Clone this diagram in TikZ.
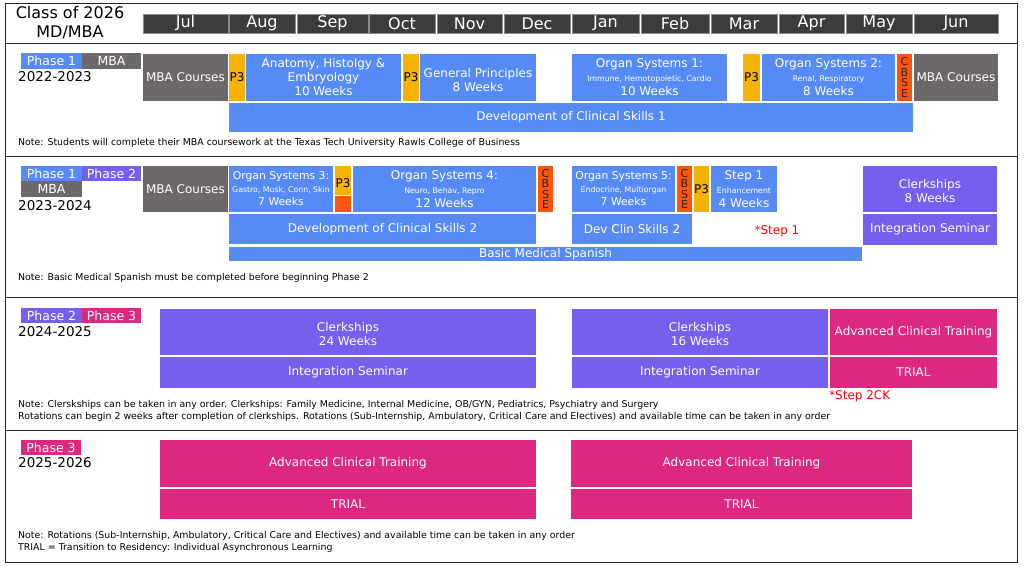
\documentclass[tikz,border=0pt]{standalone}
\usepackage{fontspec}
\setmainfont{DejaVu Sans}
\usepackage{tikz}
\usepackage{color}
\usetikzlibrary{positioning}

\definecolor{medblue}{RGB}{86,139,245}
\definecolor{mbagray}{RGB}{110,105,105}
\definecolor{pyellow}{RGB}{246,178,0}
\definecolor{cbsered}{RGB}{255,84,12}
\definecolor{clkpurple}{RGB}{117,95,236}
\definecolor{actpink}{RGB}{220,40,128}
\definecolor{monthgray}{RGB}{60,60,60}

% a block from (x1,y1) to (x2,y2), in pixels from the top left
\newcommand{\slot}[7]{\node[#1,minimum width={(#4-#2)*1pt},minimum height={(#5-#3)*1pt},anchor=north west] (#6) at (#2,#3) {#7};}
\newcommand{\sm}[1]{{\fontsize{7.8}{10}\selectfont #1}}

\begin{document}
\begin{tikzpicture}[x=1pt,y=-1pt,
    box/.style={inner sep=0pt,outer sep=0pt,align=center,text=white,font=\fontsize{12}{14}\selectfont},
    med/.style={box,fill=medblue},
    mba/.style={box,fill=mbagray},
    pthree/.style={box,fill=pyellow,text=black},
    cbse/.style={box,fill=cbsered,text=black!85,font=\fontsize{11}{10.5}\selectfont},
    clk/.style={box,fill=clkpurple},
    act/.style={box,fill=actpink},
    tag/.style={box,font=\fontsize{12.5}{14}\selectfont},
    month/.style={box,fill=monthgray,draw=black!45,line width=0.8pt,font=\fontsize{16}{18}\selectfont},
    year/.style={anchor=west,inner sep=0pt,font=\fontsize{13.5}{15}\selectfont},
    note/.style={anchor=west,inner sep=0pt,align=left,font=\fontsize{9.4}{11.5}\selectfont},
    exam/.style={inner sep=0pt,text=red,font=\fontsize{12}{14}\selectfont}]

  \useasboundingbox (0,0) rectangle (1026,566);

  % frame
  \draw[line width=0.9pt,black!85] (5,3) rectangle (1017,562);
  \draw[line width=0.9pt,black!85] (5,43) -- (1017,43);
  \draw[line width=0.9pt,black!85] (5,156) -- (1017,156);
  \draw[line width=0.9pt,black!85] (5,297) -- (1017,297);
  \draw[line width=0.9pt,black!85] (5,430) -- (1017,430);

  % header
  \node[align=center,inner sep=0pt,font=\fontsize{16}{19}\selectfont] (title) at (70,23) {Class of 2026\\MD/MBA};
  \slot{month}{143}{14}{228}{33}{jul}{Jul}
  \slot{month}{229}{14}{295}{33}{aug}{Aug}
  \slot{month}{297}{14}{368}{33}{sep}{Sep}
  \slot{month}{369}{14}{435}{33}{oct}{Oct}
  \slot{month}{437}{14}{502}{33}{nov}{Nov}
  \slot{month}{504}{14}{570}{33}{dec}{Dec}
  \slot{month}{572}{14}{639}{33}{jan}{Jan}
  \slot{month}{641}{14}{709}{33}{feb}{Feb}
  \slot{month}{711}{14}{777}{33}{mar}{Mar}
  \slot{month}{779}{14}{844}{33}{apr}{Apr}
  \slot{month}{846}{14}{912}{33}{may}{May}
  \slot{month}{914}{14}{998}{33}{jun}{Jun}

  % 2022-2023
  \slot{tag,fill=medblue}{21}{53}{82}{69}{phA}{Phase 1}
  \slot{tag,fill=mbagray}{82}{53}{141}{69}{mbaA}{MBA}
  \node[year] (yrA) at (18,77) {2022-2023};
  \slot{mba}{143}{54}{228}{101}{mbacA}{MBA Courses}
  \slot{pthree}{229}{54}{245}{101}{ptA}{P3}
  \slot{med}{246}{54}{401}{101}{anat}{Anatomy, Histolgy \&\\Embryology\\10 Weeks}
  \slot{pthree}{403}{54}{419}{101}{ptB}{P3}
  \slot{med}{420}{54}{536}{101}{genp}{\mbox{}\\General Principles\\8 Weeks}
  \slot{med}{572}{54}{727}{101}{osA}{Organ Systems 1:\\\sm{Immune, Hemotopoietic, Cardio}\\10 Weeks}
  \slot{pthree}{743}{54}{760}{101}{ptC}{P3}
  \slot{med}{762}{54}{895}{101}{osB}{Organ Systems 2:\\\sm{Renal, Respiratory}\\8 Weeks}
  \slot{cbse}{897}{54}{912}{101}{cbA}{C\\B\\S\\E}
  \slot{mba}{914}{54}{998}{101}{mbacB}{MBA Courses}
  \slot{med}{229}{103}{913}{132}{dcsA}{Development of Clinical Skills 1}
  \node[note] (noteA) at (18,143) {Note: Students will complete their MBA coursework at the Texas Tech University Rawls College of Business};

  % 2023-2024
  \slot{tag,fill=medblue}{21}{166}{82}{181}{phB}{Phase 1}
  \slot{tag,fill=clkpurple}{82}{166}{141}{181}{phC}{Phase 2}
  \slot{tag,fill=mbagray}{21}{181}{82}{197}{mbaB}{MBA}
  \node[year] (yrB) at (18,206) {2023-2024};
  \slot{mba}{143}{166}{228}{212}{mbacC}{MBA Courses}
  \slot{med,font=\fontsize{10.8}{13}\selectfont}{229}{166}{333}{212}{osC}{Organ Systems 3:\\\sm{Gastro, Musk, Conn, Skin}\\7 Weeks}
  \slot{pthree}{335}{166}{351}{195}{ptD}{\mbox{}\\P3}
  \slot{cbse}{335}{196}{351}{212}{cbB}{}
  \slot{med}{353}{166}{536}{212}{osD}{Organ Systems 4:\\\sm{Neuro, Behav, Repro}\\12 Weeks}
  \slot{cbse}{538}{166}{553}{212}{cbC}{C\\B\\S\\E}
  \slot{med,font=\fontsize{10.8}{13}\selectfont}{572}{166}{675}{212}{osE}{Organ Systems 5:\\\sm{Endocrine, Multiorgan}\\7 Weeks}
  \slot{cbse}{677}{166}{692}{212}{cbD}{C\\B\\S\\E}
  \slot{pthree}{694}{166}{709}{212}{ptE}{P3}
  \slot{med}{711}{166}{777}{212}{stepA}{Step 1\\\sm{Enhancement}\\4 Weeks}
  \slot{clk}{863}{166}{997}{212}{clkA}{\mbox{}\\Clerkships\\8 Weeks}
  \slot{med}{229}{214}{536}{244}{dcsB}{Development of Clinical Skills 2}
  \slot{med}{572}{214}{692}{244}{dcsC}{Dev Clin Skills 2}
  \node[exam] (exA) at (777,231) {*Step 1};
  \slot{clk}{863}{214}{997}{245}{intA}{Integration Seminar}
  \slot{med}{229}{247}{862}{261}{spanish}{Basic Medical Spanish}
  \node[note] (noteB) at (18,278) {Note: Basic Medical Spanish must be completed before beginning Phase 2};

  % 2024-2025
  \slot{tag,fill=clkpurple}{21}{308}{82}{323}{phD}{Phase 2}
  \slot{tag,fill=actpink}{82}{308}{141}{323}{phE}{Phase 3}
  \node[year] (yrC) at (18,332) {2024-2025};
  \slot{clk}{160}{309}{536}{355}{clkB}{\mbox{}\\Clerkships\\24 Weeks}
  \slot{clk}{160}{357}{536}{388}{intB}{Integration Seminar}
  \slot{clk}{572}{309}{828}{355}{clkC}{\mbox{}\\Clerkships\\16 Weeks}
  \slot{clk}{572}{357}{828}{388}{intC}{Integration Seminar}
  \slot{act}{830}{309}{997}{355}{actA}{Advanced Clinical Training}
  \slot{act}{830}{357}{997}{388}{trialA}{TRIAL}
  \node[exam,anchor=west] (exB) at (829,396) {*Step 2CK};
  \node[note] (noteC) at (18,411) {Note: Clerskships can be taken in any order. Clerkships: Family Medicine, Internal Medicine, OB/GYN, Pediatrics, Psychiatry and Surgery\\Rotations can begin 2 weeks after completion of clerkships. Rotations (Sub-Internship, Ambulatory, Critical Care and Electives) and available time can be taken in any order};

  % 2025-2026
  \slot{tag,fill=actpink}{21}{440}{81}{455}{phF}{Phase 3}
  \node[year] (yrD) at (18,463) {2025-2026};
  \slot{act}{160}{440}{536}{487}{actB}{Advanced Clinical Training}
  \slot{act}{160}{489}{536}{519}{trialB}{TRIAL}
  \slot{act}{571}{440}{912}{487}{actC}{Advanced Clinical Training}
  \slot{act}{571}{489}{912}{519}{trialC}{TRIAL}
  \node[note] (noteD) at (18,542) {Note: Rotations (Sub-Internship, Ambulatory, Critical Care and Electives) and available time can be taken in any order\\TRIAL = Transition to Residency: Individual Asynchronous Learning};

\end{tikzpicture}
\end{document}
